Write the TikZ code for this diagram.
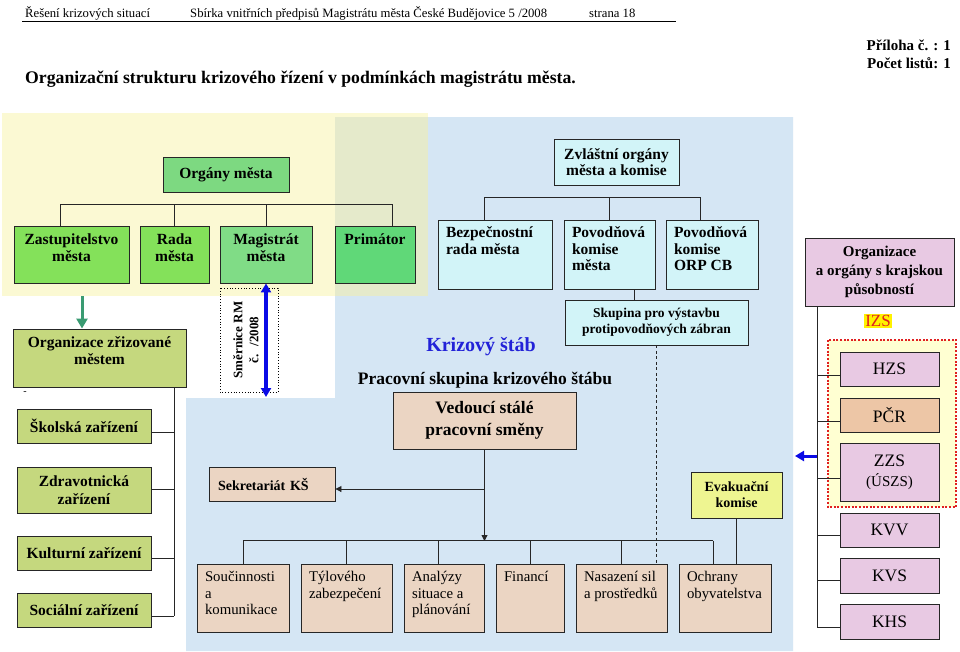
\documentclass[tikz,border=0pt]{standalone}
\usepackage{fontspec}
\setmainfont{Liberation Serif}
\usetikzlibrary{arrows.meta}

\definecolor{gBright}{HTML}{84E15A}
\definecolor{gMag}{HTML}{80DC86}
\definecolor{gPrim}{HTML}{60D878}
\definecolor{gOrg}{HTML}{7DD981}
\definecolor{olive}{HTML}{C5D87E}
\definecolor{cyanb}{HTML}{D2F4F8}
\definecolor{lilac}{HTML}{E8C9E3}
\definecolor{tanb}{HTML}{EBD5C3}
\definecolor{peach}{HTML}{EDC6A6}
\definecolor{evak}{HTML}{EEF591}
\definecolor{bgblue}{HTML}{D5E6F4}
\definecolor{bgyel}{HTML}{FBF9D3}
\definecolor{bgmix}{HTML}{E5EACB}
\definecolor{izsyel}{HTML}{FFFFD2}
\definecolor{izsred}{HTML}{E02020}
\definecolor{hlyel}{HTML}{FFF200}
\definecolor{ksblue}{HTML}{2222D8}
\definecolor{arrblue}{HTML}{0A0AE6}
\definecolor{arrgreen}{HTML}{3A9B72}

\newcommand{\TC}[4]{\parbox[c][\dimexpr#2pt-12pt\relax][t]{\dimexpr#1pt-8pt\relax}{#3\centering\strut#4}}
\newcommand{\TL}[4]{\parbox[c][\dimexpr#2pt-12pt\relax][t]{\dimexpr#1pt-16pt\relax}{#3\raggedright\hyphenpenalty=10000\strut#4}}
\newcommand{\gf}{\fontsize{15.5}{17.5}\selectfont\bfseries}
\newcommand{\cf}{\fontsize{15.5}{16.5}\selectfont\bfseries}
\newcommand{\skf}{\fontsize{13.5}{16}\selectfont\bfseries}
\newcommand{\kf}{\fontsize{15}{19}\selectfont\bfseries}
\newcommand{\rgf}{\fontsize{17.5}{20}\selectfont}
\newcommand{\psf}{\fontsize{17.5}{22}\selectfont\bfseries}
\newcommand{\ksf}{\fontsize{20}{22}\selectfont\bfseries}
\newcommand{\sekf}{\fontsize{14}{16}\selectfont\bfseries}
\newcommand{\btf}{\fontsize{14.8}{16.5}\selectfont}
\newcommand{\hdf}{\fontsize{12.7}{14}\selectfont}
\newcommand{\titf}{\fontsize{17.7}{20}\selectfont\bfseries}
\newcommand{\prf}{\fontsize{15}{17}\selectfont\bfseries}
\newcommand{\smf}{\fontsize{13}{16}\selectfont\bfseries}

\begin{document}
\begin{tikzpicture}[x=1pt,y=-1pt,
  box/.style={draw=black!85, line width=0.9pt},
  cb/.style={box, inner xsep=4pt, inner ysep=6pt},
  lb/.style={box, inner xsep=8pt, inner ysep=6pt},
  mb/.style={box, inner sep=0pt, align=center},
  conn/.style={draw=black!85, line width=0.9pt},
  tipk/.style={-{Triangle[length=6pt,width=6pt]}},
]
\useasboundingbox (0,0) rectangle (960,651);
\fill[white] (0,0) rectangle (960,651);

% backgrounds
\fill[bgblue] (335,117) -- (793,117) -- (793,651) -- (186,651) -- (186,398) -- (335,398) -- cycle;
\fill[bgyel] (2,113) rectangle (335,296);
\fill[bgyel] (335,113) rectangle (428,117);
\fill[bgmix] (335,117) rectangle (428,296);

% header
\node[anchor=base west, font=\hdf, inner sep=0pt] (h1) at (25,17) {Řešení krizových situací};
\node[anchor=base west, font=\hdf, inner sep=0pt] (h2) at (190,17) {Sbírka vnitřních předpisů Magistrátu města České Budějovice 5 /2008};
\node[anchor=base west, font=\hdf, inner sep=0pt] (h3) at (589,17) {strana 18};
\draw[line width=0.8pt] (22,21.5) -- (676,21.5);
\node[anchor=base west, font=\titf, inner sep=0pt] (title) at (25,83) {Organizační strukturu krizového řízení v podmínkách magistrátu města.};
\node[anchor=base east, font=\prf, inner sep=0pt] (pril) at (951,50) {Příloha č. : 1};
\node[anchor=base east, font=\prf, inner sep=0pt] (pocet) at (951,68) {Počet listů: 1};

% green block
\node[mb, fill=gOrg, minimum width=126pt, minimum height=35pt, font=\gf] (orgm) at (226,174.5) {Orgány města};
\node[cb, fill=gBright] (zast) at (71.5,254.5) {\TC{115}{57}{\gf}{Zastupitelstvo\\města}};
\node[cb, fill=gBright] (rada) at (174.5,254.5) {\TC{69}{57}{\gf}{Rada\\města}};
\node[cb, fill=gMag] (mag) at (266,254.5) {\TC{92}{57}{\gf}{Magistrát\\města}};
\node[cb, fill=gPrim] (prim) at (375,254.5) {\TC{80}{57}{\gf}{Primátor}};
\coordinate (gb1) at (60,204);
\coordinate (gb2) at (392,204);
\draw[conn] (gb1) -- (gb2);
\draw[conn] (gb1) -- (gb1 |- zast.north);
\draw[conn] (rada.north |- gb1) -- (rada.north);
\draw[conn] (mag.north |- gb1) -- (mag.north);
\draw[conn] (gb2) -- (gb2 |- prim.north);

% cyan block
\node[mb, fill=cyanb, minimum width=125pt, minimum height=46pt, font=\cf] (zvl) at (616.5,162) {Zvláštní orgány\\města a komise};
\node[lb, fill=cyanb] (bez) at (495,254.5) {\TL{114}{69}{\cf}{Bezpečnostní\\rada města}};
\node[lb, fill=cyanb] (pov1) at (609.5,254.5) {\TL{91}{69}{\cf}{Povodňová\\komise\\města}};
\node[lb, fill=cyanb] (pov2) at (712,254.5) {\TL{92}{69}{\cf}{Povodňová\\komise\\ORP CB}};
\coordinate (cb1) at (484,197);
\coordinate (cb2) at (700,197);
\draw[conn] (cb1) -- (cb2);
\draw[conn] (cb1) -- (cb1 |- bez.north);
\draw[conn] (pov1.north |- cb1) -- (pov1.north);
\draw[conn] (cb2) -- (cb2 |- pov2.north);
\node[mb, fill=cyanb, minimum width=183pt, minimum height=45pt, font=\skf] (skup) at (656.5,322.5) {Skupina pro výstavbu\\protipovodňových zábran};
\coordinate (pk) at (634,289);
\draw[conn] (pk) -- (pk |- skup.north);

% right column
\node[mb, fill=lilac, minimum width=149pt, minimum height=68pt, font=\kf] (orgk) at (879.5,272) {Organizace\\a orgány s krajskou\\působností};
\node[fill=hlyel, text=izsred, inner xsep=1pt, inner ysep=1.5pt, font=\fontsize{17}{19}\selectfont] (izs) at (878,321) {IZS};
\draw[izsred, fill=izsyel, line width=2.4pt, dash pattern=on 2pt off 1.6pt] (828,340) rectangle (956,507);
\node[mb, fill=lilac, minimum width=99pt, minimum height=34pt, font=\rgf] (hzs) at (889.5,369) {HZS};
\node[mb, fill=peach, minimum width=99pt, minimum height=34pt, font=\rgf] (pcr) at (889.5,415) {PČR};
\node[mb, fill=lilac, minimum width=99pt, minimum height=58pt, font=\rgf] (zzs) at (889.5,472) {ZZS\\{\fontsize{15}{17}\selectfont(ÚSZS)}};
\node[mb, fill=lilac, minimum width=99pt, minimum height=34pt, font=\rgf] (kvv) at (889.5,530) {KVV};
\node[mb, fill=lilac, minimum width=99pt, minimum height=35pt, font=\rgf] (kvs) at (889.5,575.5) {KVS};
\node[mb, fill=lilac, minimum width=99pt, minimum height=35pt, font=\rgf] (khs) at (889.5,621.5) {KHS};
\coordinate (rb1) at (817,306);
\coordinate (rb2) at (817,627);
\draw[conn] (rb1) -- (rb2);
\draw[conn] ([yshift=-6pt]hzs.west) -- ++(-23,0);
\draw[conn] ([yshift=-6pt]pcr.west) -- ++(-23,0);
\draw[conn] ([yshift=-6pt]zzs.west) -- ++(-23,0);
\draw[conn] ([yshift=-5pt]kvv.west) -- ++(-23,0);
\draw[conn] ([yshift=-5pt]kvs.west) -- ++(-23,0);
\draw[conn] ([yshift=-5.5pt]khs.west) -- ++(-23,0);
\coordinate (ba1) at (817,456);
\coordinate (ba2) at (795,456);
\draw[arrblue, line width=3pt, -{Triangle[length=9pt,width=10pt]}] (ba1) -- (ba2);

% left column
\node[cb, fill=olive] (ozm) at (99.5,358) {\TC{173}{58}{\gf}{Organizace zřizované\\městem}};
\coordinate (ga) at (82,296);
\draw[arrgreen, line width=3pt, -{Triangle[length=10pt,width=11pt]}] (ga) -- (ga |- ozm.north);
\node[font=\fontsize{10}{12}\selectfont, inner sep=0pt] (dsh) at (25,393) {-};
\node[mb, fill=olive, minimum width=134pt, minimum height=34pt, font=\gf] (skol) at (84,426) {Školská zařízení};
\node[mb, fill=olive, minimum width=134pt, minimum height=46pt, font=\gf] (zdrav) at (84,490) {Zdravotnická\\zařízení};
\node[mb, fill=olive, minimum width=134pt, minimum height=34pt, font=\gf] (kult) at (84,553) {Kulturní zařízení};
\node[mb, fill=olive, minimum width=134pt, minimum height=34pt, font=\gf] (soc) at (84,610) {Sociální zařízení};
\coordinate (lb1) at (174,387);
\coordinate (lb2) at (174,616);
\draw[conn] (lb1) -- (lb2);
\draw[conn] ([yshift=-6pt]skol.east) -- ++(23,0);
\draw[conn] ([yshift=1pt]zdrav.east) -- ++(23,0);
\draw[conn] ([yshift=-5pt]kult.east) -- ++(23,0);
\draw[conn] ([yshift=-6pt]soc.east) -- ++(23,0);

% Smernice
\draw[black, line width=0.8pt, dotted] (220,288) rectangle (278,392);
\node[rotate=90, align=center, font=\smf] (smer) at (246,340) {Směrnice RM\\č.\hspace{8pt}/2008};
\coordinate (sa) at (266,397);
\draw[arrblue, line width=3.5pt, {Triangle[length=9pt,width=10pt]}-{Triangle[length=9pt,width=10pt]}] (mag.south) -- (sa);

% krizovy stab
\node[font=\ksf, text=ksblue] (ks) at (481,347) {Krizový štáb};
\node[font=\psf] (psk) at (485,380) {Pracovní skupina krizového štábu};
\node[mb, fill=tanb, minimum width=183pt, minimum height=57pt, font=\psf] (ved) at (484.5,420.5) {Vedoucí stálé\\pracovní směny};
\node[box, fill=tanb, text width=108pt, inner xsep=9pt, inner ysep=0pt, minimum height=34pt, align=left, font=\sekf] (sek) at (272,484) {Sekretariát KŠ};
\node[mb, fill=evak, minimum width=91pt, minimum height=46pt, font=\sekf] (evk) at (736.5,495) {Evakuační\\komise};

\node[lb, fill=tanb] (sou) at (243,598) {\TL{92}{68}{\btf}{Součinnosti\\a\\komunikace}};
\node[lb, fill=tanb] (tyl) at (346.5,598) {\TL{91}{68}{\btf}{Týlového\\zabezpečení}};
\node[lb, fill=tanb] (ana) at (444,598) {\TL{80}{68}{\btf}{Analýzy\\situace a\\plánování}};
\node[lb, fill=tanb] (fin) at (530,598) {\TL{68}{68}{\btf}{Financí}};
\node[lb, fill=tanb] (nas) at (621.5,598) {\TL{91}{68}{\btf}{Nasazení sil\\a prostředků}};
\node[lb, fill=tanb] (och) at (725,598) {\TL{92}{68}{\btf}{Ochrany\\obyvatelstva}};

\coordinate (bb) at (484.5,541);
\coordinate (sb) at (484.5,489);
\draw[conn] ([yshift=23pt]sou.north) -- ([xshift=-12pt,yshift=23pt]och.north);
\draw[conn] ([yshift=23pt]sou.north) -- (sou.north);
\draw[conn] ([yshift=23pt]tyl.north) -- (tyl.north);
\draw[conn] ([xshift=-6pt,yshift=23pt]ana.north) -- ([xshift=-6pt]ana.north);
\draw[conn] ([yshift=23pt]fin.north) -- (fin.north);
\draw[conn] ([yshift=23pt]nas.north) -- (nas.north);
\draw[conn] ([xshift=-12pt,yshift=23pt]och.north) -- ([xshift=-12pt]och.north);
\draw[conn, tipk] (ved.south) -- (bb);
\draw[conn, tipk] (sb) -- ([yshift=-5pt]sek.east);
\draw[conn] (evk.south) -- (evk.south |- och.north);
\draw[conn, dash pattern=on 3pt off 2.5pt] (skup.south) -- (skup.south |- nas.north);
\end{tikzpicture}
\end{document}
